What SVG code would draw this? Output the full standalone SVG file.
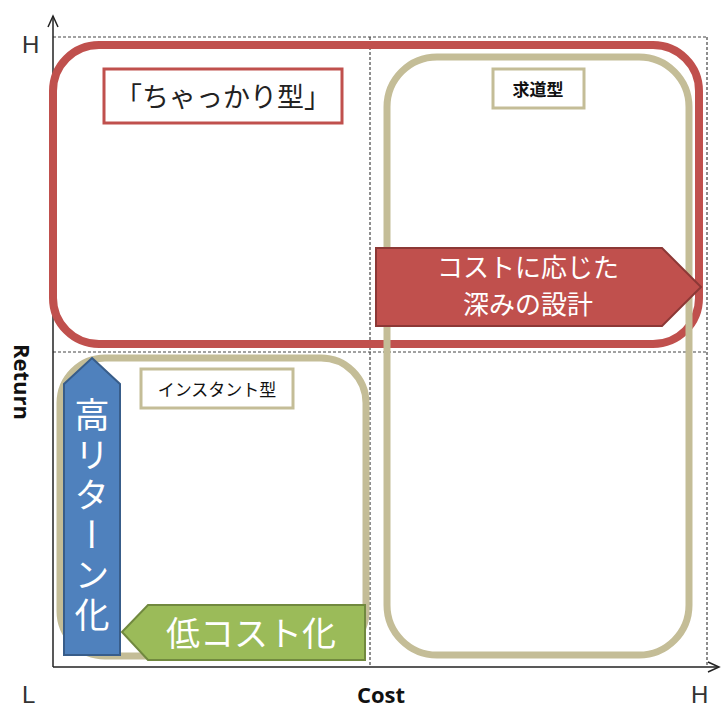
<svg xmlns="http://www.w3.org/2000/svg" width="721" height="709" viewBox="0 0 721 709">
<style>
.dash{stroke:#444;stroke-width:1.2;stroke-dasharray:3 2;fill:none}
.axis{stroke:#222;stroke-width:1.5;fill:none}
.ax{font-family:"Liberation Sans","Noto Sans",sans-serif;fill:#333;font-size:24px}
.axb{font-family:"Open Sans","Liberation Sans",sans-serif;font-weight:bold;fill:#111;font-size:22px}
.jp{font-family:"Noto Sans CJK JP",sans-serif}
.wt{fill:#fff}
.tan{fill:none;stroke:#c4bd97;stroke-width:7}
</style>
<rect width="721" height="709" fill="#fff"/>
<g id="grid">
<line class="dash" x1="53" y1="37" x2="707" y2="37"/>
<line class="dash" x1="53" y1="352" x2="707" y2="352"/>
<line class="dash" x1="370" y1="37" x2="370" y2="667"/>
<line class="dash" x1="707" y1="37" x2="707" y2="667"/>
</g>
<g id="axes">
<line class="axis" x1="53" y1="667" x2="53" y2="16"/>
<polyline class="axis" points="48,27 53,16 58,27"/>
<line class="axis" x1="53" y1="667" x2="718" y2="667"/>
<polyline class="axis" points="708,662 719,667 708,672"/>
<text class="ax" x="22" y="53">H</text>
<text class="ax" x="22" y="703">L</text>
<text class="ax" x="691" y="703">H</text>
<text class="axb" x="381" y="703" text-anchor="middle">Cost</text>
<text class="axb" transform="translate(14,382) rotate(90)" text-anchor="middle">Return</text>
</g>
<g id="chakkari">
<rect x="53" y="45" width="646" height="299" rx="46" fill="none" stroke="#c0504d" stroke-width="8"/>
<rect x="104" y="69" width="238" height="54" fill="#fff" stroke="#c0504d" stroke-width="3"/>
<text class="jp" x="223" y="107" font-size="27" text-anchor="middle" fill="#222">「ちゃっかり型」</text>
</g>
<g id="kyudo">
<rect class="tan" x="387" y="57" width="302" height="598" rx="50"/>
<rect x="493" y="69" width="91" height="39" fill="#fff" stroke="#c4bd97" stroke-width="3"/>
<text class="jp" x="538" y="96" font-size="17" text-anchor="middle" fill="#111" font-weight="bold">求道型</text>
</g>
<g id="instant">
<rect class="tan" x="60" y="358" width="306" height="298" rx="45"/>
<rect x="141" y="369" width="152" height="39" fill="#fff" stroke="#c4bd97" stroke-width="3"/>
<text class="jp" x="217" y="396" font-size="17" text-anchor="middle" fill="#111">インスタント型</text>
</g>
<g id="fukami">
<polygon points="376,248 662,248 701,287 662,326 376,326" fill="#c0504d" stroke="#8c3836" stroke-width="2"/>
<text class="jp wt" x="528" y="277" font-size="26" text-anchor="middle">コストに応じた</text>
<text class="jp wt" x="528" y="314" font-size="26" text-anchor="middle">深みの設計</text>
</g>
<g id="high-return">
<polygon points="92,358 120,384 120,655 64,655 64,384" fill="#4f81bd" stroke="#385d8a" stroke-width="2"/>
<text class="jp wt" x="92" y="517" font-size="35" text-anchor="middle" letter-spacing="5" style="writing-mode:vertical-rl">高リターン化</text>
</g>
<g id="low-cost">
<polygon points="122,632 148,605 365,605 365,660 148,660" fill="#9bbb59" stroke="#71893f" stroke-width="2"/>
<text class="jp wt" x="251" y="646" font-size="34" text-anchor="middle">低コスト化</text>
</g>
</svg>
